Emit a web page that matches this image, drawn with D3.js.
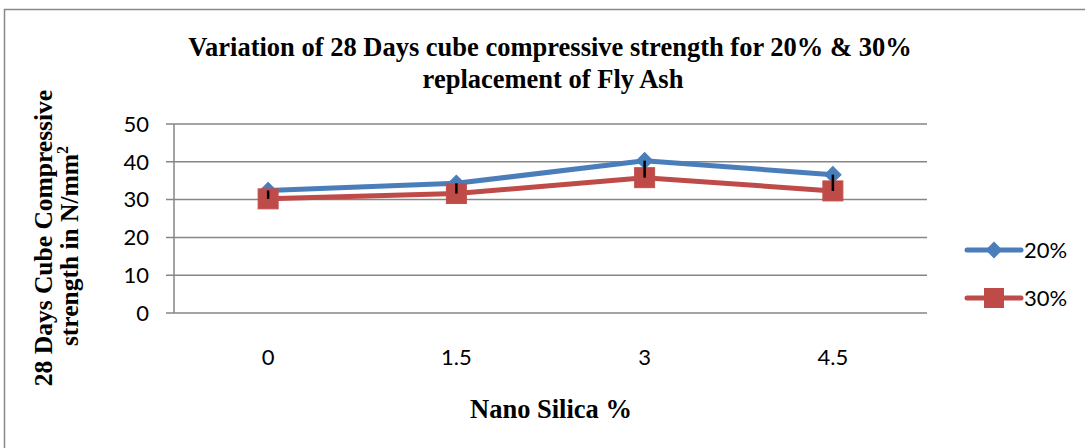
<!DOCTYPE html>
<html>
<head>
<meta charset="utf-8">
<script src="https://cdn.jsdelivr.net/npm/d3@7"></script>
<style>
  html, body { margin: 0; padding: 0; background: #fff; }
  svg { display: block; }
</style>
</head>
<body>
<svg id="chart"></svg>
<script>
const W = 1085, H = 448;
const M = {t: 124, r: 158, b: 135, l: 174};

// data
const categories = ["0", "1.5", "3", "4.5"];
const s20 = [32.4, 34.3, 40.3, 36.6];
const s30 = [30.2, 31.6, 35.8, 32.3];
const yTicks = [0, 10, 20, 30, 40, 50];
const seriesNames = ["20%", "30%"];

const blue = "#4a7ebb", red = "#be4b48", grid = "#868686";
const serif = "'Liberation Serif', 'Times New Roman', serif";
const sans = "Lato, 'Open Sans', sans-serif";

const svg = d3.select("#chart").attr("width", W).attr("height", H);

// outer frame
svg.append("rect")
  .attr("x", 4.5).attr("y", 9.5)
  .attr("width", W + 10).attr("height", H + 10)
  .attr("fill", "none").attr("stroke", "#888").attr("stroke-width", 1.5);

const innerW = W - M.l - M.r, innerH = H - M.t - M.b;
const g = svg.append("g").attr("transform", `translate(${M.l},${M.t})`);

const x = d3.scaleBand().domain(categories).range([0, innerW]);
const y = d3.scaleLinear().domain([0, 50]).range([innerH, 0]);
const cx = d => x(d) + x.bandwidth() / 2;

// gridlines
g.selectAll(".grid").data(yTicks).join("line")
  .attr("x1", -8).attr("x2", innerW)
  .attr("y1", d => y(d)).attr("y2", d => y(d))
  .attr("stroke", grid).attr("stroke-width", 1.5);

// y axis line
g.append("line")
  .attr("x1", 0).attr("x2", 0).attr("y1", 0).attr("y2", innerH)
  .attr("stroke", grid).attr("stroke-width", 1.5);

// y tick labels
g.selectAll(".yl").data(yTicks).join("text")
  .attr("x", -25).attr("y", d => y(d))
  .attr("dy", "0.35em")
  .attr("text-anchor", "end")
  .style("font-family", sans).style("font-size", "22px")
  .text(d => d);

// x tick labels
g.selectAll(".xl").data(categories).join("text")
  .attr("x", d => cx(d)).attr("y", innerH + 52)
  .attr("text-anchor", "middle")
  .style("font-family", sans).style("font-size", "22px")
  .text(d => d);

// lines
const line = d3.line().x((d, i) => cx(categories[i])).y(d => y(d));
[[s20, blue], [s30, red]].forEach(([vals, col]) => {
  g.append("path").datum(vals)
    .attr("d", line)
    .attr("fill", "none").attr("stroke", col)
    .attr("stroke-width", 5).attr("stroke-linejoin", "round");
});

// markers
g.selectAll(".m20").data(s20).join("path")
  .attr("transform", (d, i) => `translate(${cx(categories[i])},${y(d)}) rotate(45)`)
  .attr("d", d3.symbol().type(d3.symbolSquare2).size(170)())
  .attr("fill", blue).attr("stroke", blue).attr("stroke-width", 1);

g.selectAll(".m30").data(s30).join("rect")
  .attr("x", (d, i) => cx(categories[i]) - 10)
  .attr("y", d => y(d) - 10)
  .attr("width", 20).attr("height", 20)
  .attr("fill", red).attr("stroke", "#c0504d").attr("stroke-width", 1);

// high-low lines
g.selectAll(".hl").data(categories).join("line")
  .attr("x1", d => cx(d)).attr("x2", d => cx(d))
  .attr("y1", (d, i) => y(s20[i])).attr("y2", (d, i) => y(s30[i]))
  .attr("stroke", "#000").attr("stroke-width", 2.5);

// title
const title = svg.append("text")
  .attr("text-anchor", "middle")
  .style("font-family", serif).style("font-size", "26.5px").style("font-weight", "bold");
title.append("tspan").attr("x", 550).attr("y", 56)
  .text("Variation of 28 Days cube compressive strength for 20% & 30%");
title.append("tspan").attr("x", 553).attr("y", 88)
  .text("replacement of Fly Ash");

// y axis title
const yt = svg.append("text")
  .attr("transform", "translate(0,238) rotate(-90)")
  .attr("text-anchor", "middle")
  .style("font-family", serif).style("font-size", "25.5px").style("font-weight", "bold");
yt.append("tspan").attr("x", 0).attr("y", 52).text("28 Days Cube Compressive");
const l2 = yt.append("tspan").attr("x", -8).attr("y", 78).text("strength in N/mm");
l2.append("tspan").attr("dy", -10).style("font-size", "16px").text("2");

// x axis title
svg.append("text")
  .attr("x", 551).attr("y", 418).attr("text-anchor", "middle")
  .style("font-family", serif).style("font-size", "26.5px").style("font-weight", "bold")
  .text("Nano Silica %");

// legend
const legend = svg.append("g").attr("transform", "translate(967,250)");
const items = legend.selectAll("g").data(seriesNames).join("g")
  .attr("transform", (d, i) => `translate(0,${i * 48})`);
items.append("line")
  .attr("x1", 0).attr("x2", 54)
  .attr("stroke", (d, i) => i ? red : blue)
  .attr("stroke-width", 5).attr("stroke-linecap", "round");
items.filter((d, i) => i === 0).append("path")
  .attr("transform", "translate(27,0) rotate(45)")
  .attr("d", d3.symbol().type(d3.symbolSquare2).size(150)())
  .attr("fill", blue).attr("stroke", blue);
items.filter((d, i) => i === 1).append("rect")
  .attr("x", 17).attr("y", -10).attr("width", 20).attr("height", 20)
  .attr("fill", red);
items.append("text")
  .attr("x", 57).attr("dy", "0.35em")
  .style("font-family", sans).style("font-size", "22px")
  .text(d => d);
</script>
</body>
</html>
